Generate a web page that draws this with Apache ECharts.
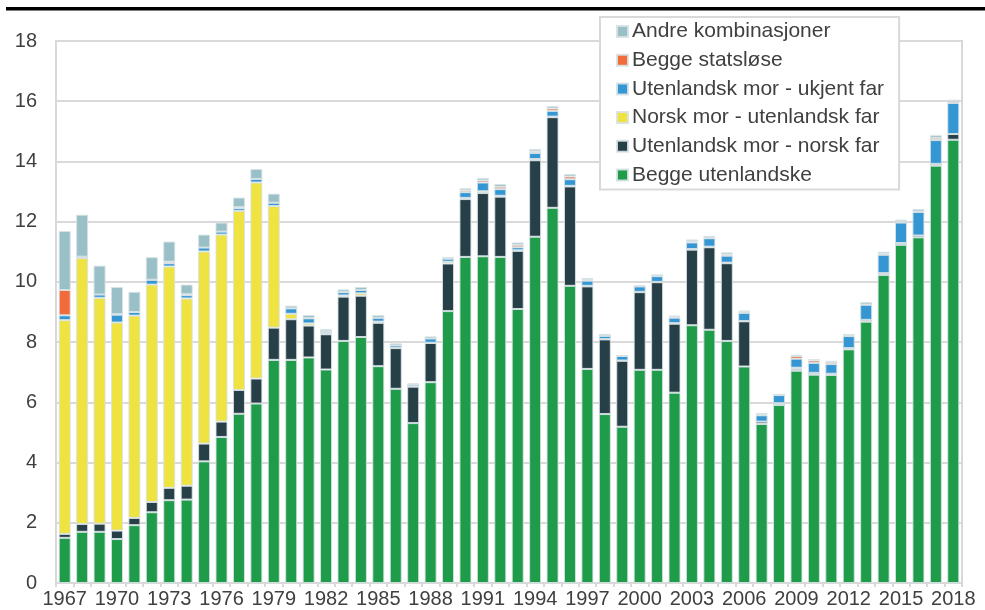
<!DOCTYPE html>
<html>
<head>
<meta charset="utf-8">
<script src="https://cdn.jsdelivr.net/npm/echarts@6/dist/echarts.min.js"></script>
<style>
html, body { margin: 0; padding: 0; background: #fff; }
#chart { width: 985px; height: 610px; }
</style>
</head>
<body>
<div id="chart"></div>
<script>
const years = [];
for (let y = 1967; y <= 2018; y++) years.push(String(y));

const beggeUtenlandske = [1.5, 1.7, 1.7, 1.46, 1.92, 2.35, 2.75, 2.77, 4.04, 4.85, 5.62, 5.96, 7.41,
  7.41, 7.49, 7.09, 8.04, 8.17, 7.2, 6.45, 5.31, 6.67, 9.03, 10.83, 10.85, 10.83, 9.1, 11.5, 12.46,
  9.87, 7.11, 5.61, 5.19, 7.08, 7.08, 6.32, 8.56, 8.41, 8.04, 7.19, 5.28, 5.91, 7.05, 6.92, 6.91,
  7.76, 8.68, 10.23, 11.23, 11.48, 13.86, 14.72];
const utMorNorskFar = [0.13, 0.26, 0.27, 0.28, 0.24, 0.34, 0.41, 0.46, 0.59, 0.51, 0.79, 0.83, 1.07,
  1.35, 1.06, 1.17, 1.47, 1.37, 1.44, 1.35, 1.21, 1.3, 1.58, 1.92, 2.1, 2.0, 1.93, 2.54, 3.01,
  3.3, 2.74, 2.48, 2.19, 2.58, 2.91, 2.29, 2.51, 2.74, 2.58, 1.5, 0.08, 0.06, 0.06, 0.06, 0.04,
  0.04, 0.06, 0.06, 0.06, 0.06, 0.06, 0.19];
const norskMorUtFar = [7.1, 8.83, 7.5, 6.91, 6.72, 7.22, 7.35, 6.22, 6.38, 6.21, 5.95, 6.51, 4.04,
  0.18, 0.07, 0.04, 0.04, 0.08, 0.04, 0.01, 0.01, 0.01, 0.06, 0.04, 0.06, 0.03, 0.02, 0.04, 0.02,
  0.02, 0.02, 0.01, 0.01, 0.01, 0.01, 0.02, 0.02, 0.02, 0.02, 0.01, 0, 0, 0.04, 0, 0,
  0, 0, 0, 0, 0, 0, 0];
const utMorUkjentFar = [0.16, 0.05, 0.11, 0.26, 0.12, 0.16, 0.11, 0.11, 0.13, 0.1, 0.09, 0.12, 0.11,
  0.18, 0.17, 0.06, 0.11, 0.11, 0.13, 0.08, 0.06, 0.14, 0.1, 0.19, 0.29, 0.22, 0.1, 0.2, 0.19,
  0.22, 0.17, 0.11, 0.15, 0.18, 0.19, 0.18, 0.22, 0.28, 0.23, 0.27, 0.21, 0.27, 0.3, 0.33, 0.32,
  0.4, 0.5, 0.61, 0.68, 0.78, 0.79, 1.03];
const beggeStatslose = [0.84, 0, 0, 0.02, 0, 0, 0.05, 0.03, 0, 0, 0.03, 0, 0,
  0, 0.01, 0, 0, 0, 0, 0, 0, 0, 0.02, 0.06, 0.07, 0.08, 0.08, 0.055, 0.08,
  0.09, 0.03, 0, 0, 0, 0, 0.03, 0.04, 0.05, 0.04, 0.04, 0.04, 0, 0.09, 0.08, 0.07,
  0.03, 0.01, 0.04, 0.04, 0.02, 0.07, 0.07];
const andreKombinasjoner = [1.96, 1.39, 0.96, 0.9, 0.67, 0.75, 0.67, 0.32, 0.43, 0.3, 0.32, 0.33, 0.3,
  0.09, 0.1, 0.07, 0.09, 0.1, 0.09, 0.07, 0.04, 0.07, 0.03, 0.07, 0.08, 0.09, 0.08, 0.08, 0.08,
  0.08, 0.06, 0.06, 0.02, 0.04, 0.06, 0.04, 0.06, 0.02, 0.07, 0.03, 0.03, 0.04, 0.03, 0.04, 0.04,
  0.04, 0.08, 0.06, 0.06, 0.08, 0.09, 0.04];

// bottom to top
const seriesDefs = [
  { name: 'Begge utenlandske', data: beggeUtenlandske, color: '#1e9c4a' },
  { name: 'Utenlandsk mor - norsk far', data: utMorNorskFar, color: '#273f46' },
  { name: 'Norsk mor - utenlandsk far', data: norskMorUtFar, color: '#efe342' },
  { name: 'Utenlandsk mor - ukjent far', data: utMorUkjentFar, color: '#3596d4' },
  { name: 'Begge statsløse', data: beggeStatslose, color: '#f26b3a' },
  { name: 'Andre kombinasjoner', data: andreKombinasjoner, color: '#99c0c7' },
];

const font = '"Liberation Sans", Arial, sans-serif';
const chart = echarts.init(document.getElementById('chart'));

chart.setOption({
  animation: false,
  textStyle: { fontFamily: font },
  grid: {
    left: 56, right: 23, top: 41, bottom: 27,
    show: true, borderColor: '#d9d9d9', borderWidth: 2,
  },
  legend: {
    orient: 'vertical',
    left: 600,
    top: 17,
    data: seriesDefs.map((s) => s.name).reverse(),
    itemWidth: 11,
    itemHeight: 11,
    itemGap: 7.7,
    padding: [4, 15, 4, 16],
    borderColor: '#d9d9d9',
    borderWidth: 2,
    backgroundColor: '#fff',
    icon: 'rect',
    textStyle: { fontSize: 21, lineHeight: 21, color: '#404040', fontFamily: font, padding: [0, 0, 0, -1] },
  },
  graphic: [
    { type: 'rect', shape: { x: 6, y: 7, width: 979, height: 3.5 }, style: { fill: '#000' } },
  ],
  xAxis: {
    type: 'category',
    data: years,
    axisLine: { lineStyle: { color: '#d9d9d9', width: 2 } },
    axisTick: { show: true, interval: 0, length: 4, lineStyle: { color: '#d9d9d9', width: 2 } },
    axisLabel: { interval: 2, fontSize: 20, color: '#404040', margin: 6, fontFamily: font },
  },
  yAxis: {
    type: 'value',
    min: 0,
    max: 18,
    interval: 2,
    axisLine: { show: true, lineStyle: { color: '#d9d9d9', width: 2 } },
    axisTick: { show: false },
    splitLine: { lineStyle: { color: '#d9d9d9', width: 2 } },
    axisLabel: { fontSize: 20, color: '#404040', margin: 19, fontFamily: font },
  },
  series: seriesDefs.map((s) => ({
    name: s.name,
    type: 'bar',
    stack: 'total',
    barWidth: 12,
    data: s.data,
    itemStyle: { color: s.color, borderColor: 'rgba(215,226,229,0.9)', borderWidth: 1 },
  })),
});
</script>
</body>
</html>
